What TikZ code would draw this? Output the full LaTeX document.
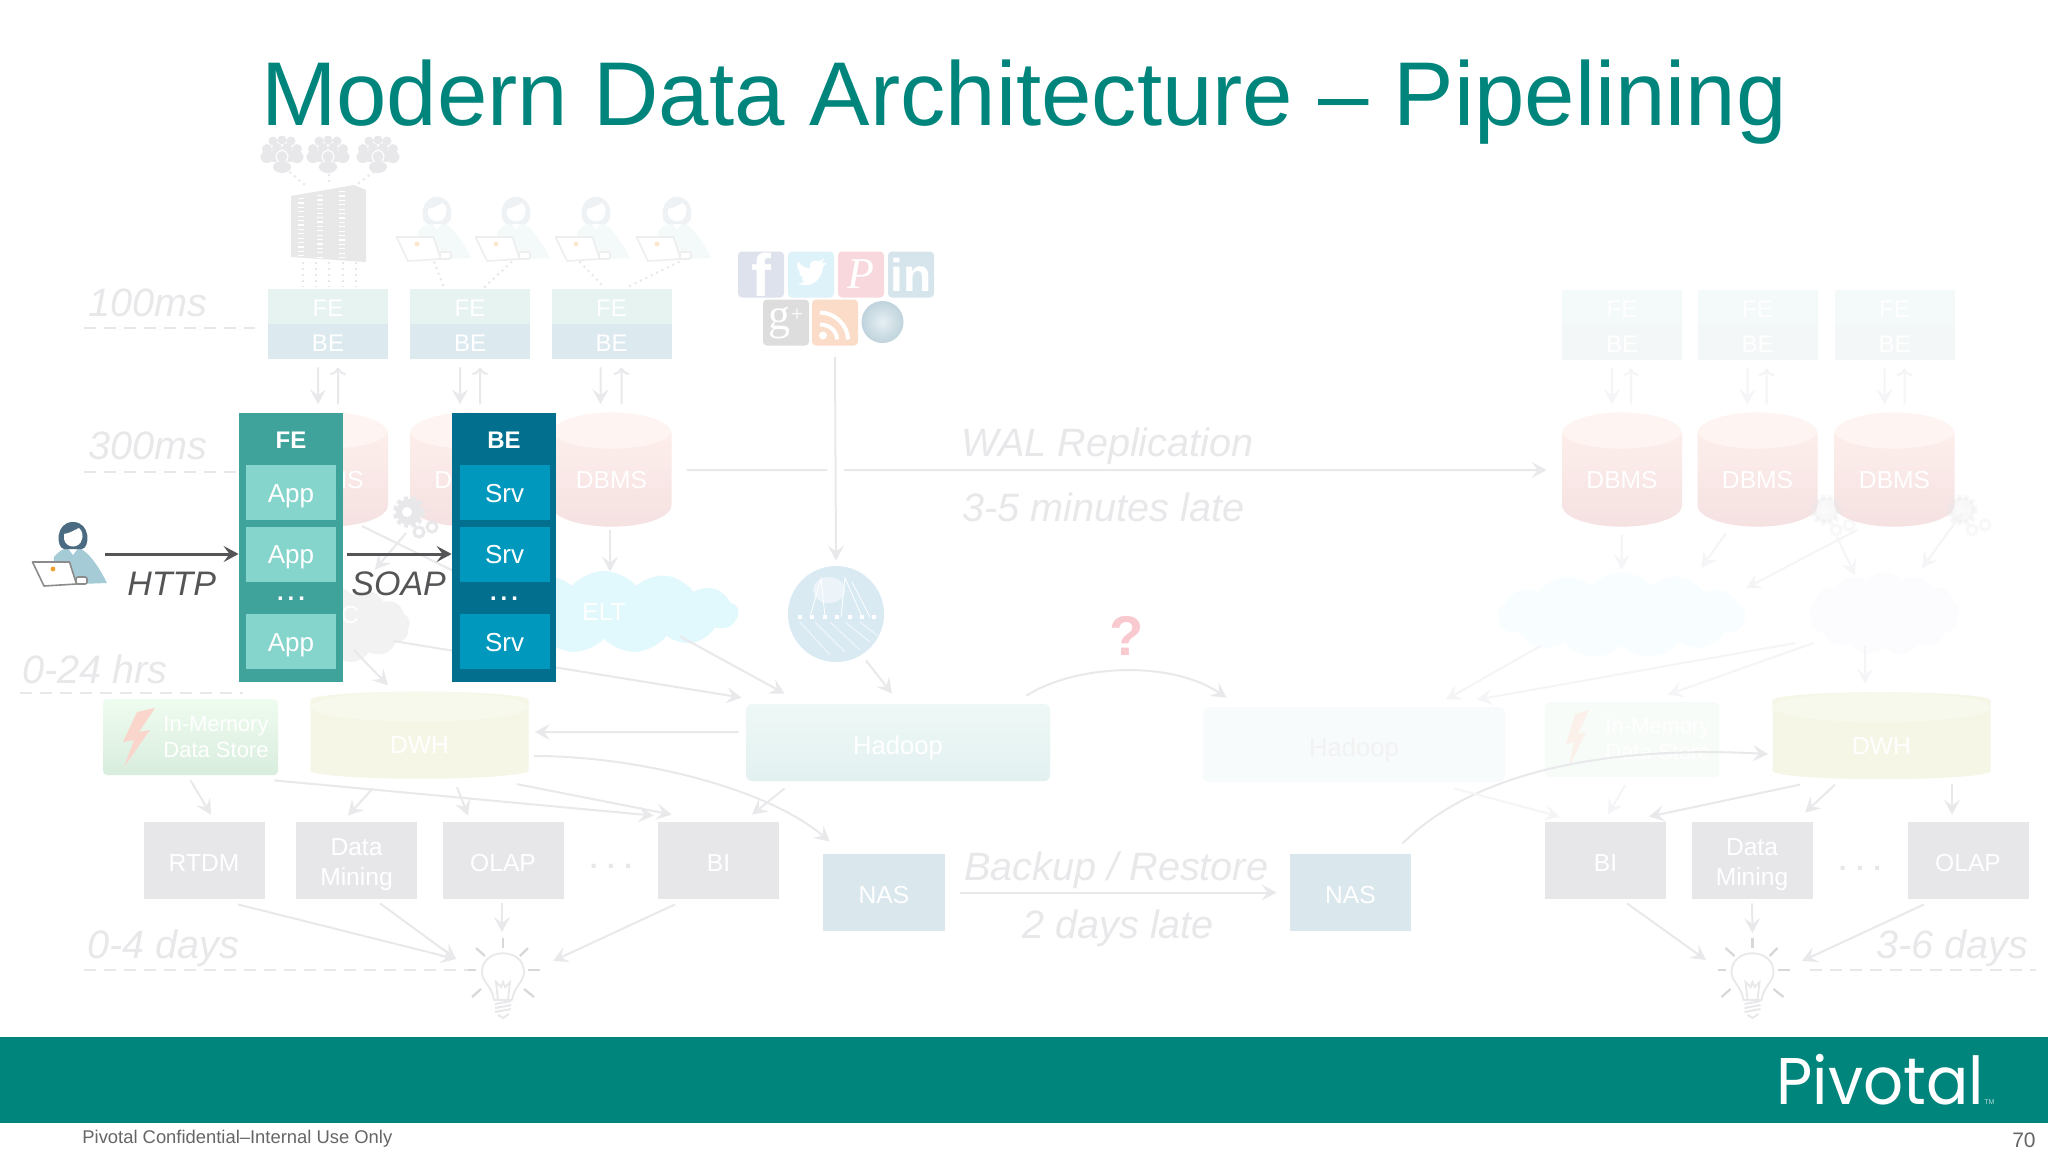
\documentclass[tikz,border=0pt]{standalone}
\usepackage{fontspec}
\setmainfont{Liberation Sans}
\newfontfamily\logofont{Poppins}
\newfontfamily\iconserif{Liberation Serif}
\usetikzlibrary{arrows.meta,shapes.geometric,shapes.symbols}

\definecolor{pivotalteal}{HTML}{00857C}
\definecolor{fecol}{HTML}{3FA39B}
\definecolor{febox}{HTML}{85D5CC}
\definecolor{becol}{HTML}{026F8E}
\definecolor{bebox}{HTML}{0098BD}
\definecolor{flowgray}{HTML}{555558}
\definecolor{fadetext}{HTML}{E8E8EB}
\definecolor{fadewire}{HTML}{E9E9EC}
\definecolor{faintwire}{HTML}{F5F5F7}
\definecolor{greybox}{HTML}{E7E7EA}
\definecolor{nasbox}{HTML}{DAE8ED}
\definecolor{dbtop}{HTML}{FEF1EE}
\definecolor{dbred}{HTML}{FCDCD7}
\definecolor{dbbot}{HTML}{F5E1E1}
\definecolor{dwhgreen}{HTML}{F5F6E5}
\definecolor{stackfe}{HTML}{E6F3F1}
\definecolor{stackbe}{HTML}{DCEAF0}
\definecolor{stackfeR}{HTML}{F4F9F9}
\definecolor{stackbeR}{HTML}{F4F7F8}
\definecolor{iconfb}{HTML}{DDE2EC}
\definecolor{icontw}{HTML}{DDF2F9}
\definecolor{iconpin}{HTML}{F8D8DC}
\definecolor{iconin}{HTML}{D6E4EC}
\definecolor{icongp}{HTML}{DDDDDD}
\definecolor{iconrss}{HTML}{FBDCC8}
\definecolor{globein}{HTML}{E6EFF3}
\definecolor{globeout}{HTML}{BFD3DC}
\definecolor{spiderblue}{HTML}{D9EAF3}
\definecolor{askred}{HTML}{F8C9CF}
\definecolor{cloudblue}{HTML}{E1F8FD}
\definecolor{cloudblueR}{HTML}{F8FEFF}
\definecolor{cloudpurple}{HTML}{FCFBFD}
\definecolor{memtop}{HTML}{EFFCF0}
\definecolor{membot}{HTML}{D8EDDD}
\definecolor{memR}{HTML}{F7FCF8}
\definecolor{boltred}{HTML}{F9D5CC}
\definecolor{boltredR}{HTML}{FBF0EA}
\definecolor{hadooptop}{HTML}{EEF8F6}
\definecolor{hadoopbot}{HTML}{E2F1F0}
\definecolor{hadoopR}{HTML}{F8FBFC}
\definecolor{bodyblue}{HTML}{A5CBD6}
\definecolor{hairblue}{HTML}{4A6B82}
\definecolor{lapgray}{HTML}{8C8C8C}
\definecolor{dotorange}{HTML}{F0A030}

\newcommand{\boxfont}{\fontsize{12.3}{14}\selectfont}
\newcommand{\latefont}{\fontsize{19.8}{22}\selectfont\itshape}

\tikzset{
	wire/.style={draw=fadewire,line width=1pt,-{Stealth[length=7.5pt,width=8pt,inset=3pt]}},
	faintwire/.style={wire,draw=faintwire},
	flow/.style={draw=flowgray,line width=1.5pt,-{Stealth[length=7.5pt,width=8pt,inset=3pt]}},
	dashline/.style={draw=fadetext,line width=1.1pt,dash pattern=on 6pt off 4pt},
	dotline/.style={draw=fadetext,line width=1pt,dash pattern=on 1pt off 2pt},
	late/.style={anchor=base west,inner sep=0pt,text=fadetext,font=\latefont},
	tag/.style={anchor=base west,inner sep=0pt,text=flowgray,font=\fontsize{17}{20}\selectfont\itshape},
	stack/.style={minimum width=60pt,minimum height=17.5pt,inner sep=0pt,text=white,text height=10pt,text depth=0pt,font=\fontsize{12}{14}\selectfont},
	block/.style={minimum width=60.5pt,minimum height=38.5pt,inner sep=0pt,text=white,align=center,font=\boxfont},
	lowtext/.style={text height=11pt,text depth=0pt},
	dbcyl/.style={cylinder,shape border rotate=90,aspect=0.6,minimum width=60pt,minimum height=57pt,inner sep=0pt,
		top color=dbtop,middle color=dbred,bottom color=dbbot,text=white,font=\boxfont,
		path picture={\fill[dbtop!80!white] ([yshift=-9pt]path picture bounding box.north) ellipse (30pt and 9pt);}},
	dwhcyl/.style={cylinder,shape border rotate=90,aspect=0.28,minimum width=109pt,minimum height=43.5pt,inner sep=0pt,
		fill=dwhgreen,text=white,text height=14pt,text depth=0pt,font=\boxfont,
		path picture={\fill[dwhgreen!70!white] ([yshift=-7.5pt]path picture bounding box.north) ellipse (54.5pt and 7.5pt);}},
	puff/.style={cloud,cloud puffs=13,cloud puff arc=100,aspect=2.4,inner sep=0pt,text=white,font=\boxfont},
	column/.style={minimum width=52pt,minimum height=134.5pt,inner sep=0pt},
	cell/.style={minimum width=45pt,minimum height=27.5pt,inner sep=0pt,text=white,text height=9.5pt,text depth=0pt,font=\fontsize{13}{15}\selectfont},
	head/.style={inner sep=0pt,text=white,font=\fontsize{12}{14}\selectfont\bfseries},
	social/.style={rounded corners=2pt,minimum width=23pt,minimum height=23pt,inner sep=0pt,text=white},
	person/.pic={
		\fill[bodyblue] (-19,22) .. controls (-14,16) and (-10,14) .. (-6,13) -- (6,13) .. controls (14,16) and (24,28) .. (34,48) -- (-20,50) -- cycle;
		\fill[white] (-5,13) -- (0,20) -- (5,13) -- cycle;
		\fill[hairblue] (0,-13) .. controls (-18,-13) and (-17,13) .. (-9,14) -- (9,14) .. controls (17,13) and (18,-13) .. (0,-13) -- cycle;
		\fill[white] (-9,-1) .. controls (-2,-2) and (3,-6) .. (6,-7) .. controls (10,-4) and (10,2) .. (9,4) .. controls (7,14) and (-7,14) .. (-9,4) -- cycle;
		\draw[draw=lapgray,fill=white,line width=0.8pt,line join=round] (-40.5,27) -- (-3.5,27) -- (3.5,49) -- (-29,51) -- cycle;
		\draw[draw=lapgray,fill=white,line width=0.8pt,rounded corners=1pt] (3,42) rectangle (14,49);
		\fill[dotorange] (-20,34) circle (2.4);
	},
	crowd/.pic={
		\fill[fadetext] (-9,-11) circle (4.5) (0,-12) circle (4.5) (9,-11) circle (4.5);
		\fill[fadetext] (-15,-3) circle (5) (-5,-4) circle (5) (5,-4) circle (5) (15,-3) circle (5);
		\fill[fadetext] (-15,5) ellipse (6.5 and 6) (15,5) ellipse (6.5 and 6) (-8,4) ellipse (6 and 6) (8,4) ellipse (6 and 6);
		\fill[white] (0,4.5) circle (6.5);
		\fill[fadetext] (0,4.5) circle (5.5);
		\fill[fadetext] (0,15) ellipse (9 and 6);
	},
	gearset/.pic={
		\draw[draw=fadetext,line width=3pt,dash pattern=on 2pt off 1.5pt] (0,0) circle (13);
		\fill[fadetext] (0,0) circle (13);
		\fill[white] (-2,0) circle (5);
		\draw[draw=fadetext,line width=1.5pt] (10,20) circle (5) (23,15) circle (5);
	},
	bulb/.pic={
		\draw[draw=fadetext,line width=0.9pt,fill=white,line join=round] (-9,30) .. controls (-11,16) and (-21,12) .. (-21,2) .. controls (-21,-23) and (21,-23) .. (21,2) .. controls (21,12) and (11,16) .. (9,30) -- cycle;
		\draw[draw=fadetext,line width=0.9pt] (-5,30) -- (-7,12) -- (-2,17) -- (0,12) -- (2,17) -- (7,12) -- (5,30);
		\draw[draw=fadetext,line width=1pt] (-8,34) -- (8,31) (-8,38) -- (8,35) (-8,42) -- (8,39) (-5,45) -- (0,48) -- (6,44);
		\draw[draw=fadetext!85!gray,line width=1.3pt] (0,-32) -- (0,-22) (-35,0) -- (-27,0) (25,0) -- (37,0);
		\draw[draw=fadetext!85!gray,line width=1.1pt] (-27,-22) -- (-18,-14) (25,-22) -- (17,-14) (-31,27) -- (-22,19) (31,27) -- (21,19);
	}
}

\begin{document}
\begin{tikzpicture}[x=0.5pt,y=-0.5pt]
	\useasboundingbox (0,0) rectangle (2048,1152);
	\fill[white] (0,0) rectangle (2048,1152);
	% title and bottom bar
	\node[anchor=base,inner sep=0pt,text=pivotalteal,font=\fontsize{45.3}{50}\selectfont] (title) at (1024,125) {Modern Data Architecture -- Pipelining};
	\fill[pivotalteal] (0,1037) rectangle (2048,1123);
	\node[anchor=base west,inner sep=0pt,text=white,xscale=0.95,font=\logofont\fontsize{33}{36}\selectfont] (logo) at (1776,1104) {Pivotal};
	\node[anchor=base west,inner sep=0pt,text=white!70!pivotalteal,font=\fontsize{3.5}{4}\selectfont] (tm) at (1984,1104) {TM};
	\node[anchor=base west,inner sep=0pt,text=black!60,font=\fontsize{9.2}{11}\selectfont] (footer) at (82,1143) {Pivotal Confidential--Internal Use Only};
	\node[anchor=base east,inner sep=0pt,text=black!60,font=\fontsize{10.5}{12}\selectfont] (page) at (2036,1147) {70};

	% timing labels
	\node[late] (tA) at (88,316) {100ms};
	\node[late] (tB) at (88,459) {300ms};
	\node[late] (tC) at (22,683) {0-24 hrs};
	\node[late] (tD) at (87,958) {0-4 days};
	\node[late] (tE) at (1876,958) {3-6 days};
	\draw[dashline] (84,328) -- (255,328);
	\draw[dashline] (84,472) -- (240,472);
	\draw[dashline] (20,693) -- (243,693);
	\draw[dashline] (84,970) -- (468,970);
	\draw[dashline] (1810,970) -- (2036,970);
	\node[late] (walA) at (961,456) {WAL Replication};
	\node[late] (walB) at (962,521) {3-5 minutes late};
	\node[late] (bakA) at (964,880) {Backup / Restore};
	\node[late] (bakB) at (1022,938) {2 days late};

	% web tier, left side
	\pic at (282,152) {crowd};
	\pic at (328,152) {crowd};
	\pic at (378,152) {crowd};
	\coordinate (crowdA) at (282,152);
	\coordinate (crowdB) at (329,152);
	\coordinate (crowdC) at (378,152);
	\coordinate (rack) at (329,224);
	\fill[black!9] (291,196) -- (354,185) -- (366,190) -- (366,262) -- (291,257) -- cycle;
	\draw[white,line width=3pt,dash pattern=on 0.6pt off 1.6pt] (301,198) -- (301,256);
	\draw[white,line width=3pt,dash pattern=on 0.6pt off 1.6pt] (320,195) -- (320,257);
	\draw[white,line width=3pt,dash pattern=on 0.6pt off 1.6pt] (342,191) -- (342,259);
	\draw[dotline] ([shift={(3,16)}]crowdA) -- ([shift={(-24,-39)}]rack);
	\draw[dotline] ([shift={(0,16)}]crowdB) -- ([shift={(0,-41)}]rack);
	\draw[dotline] ([shift={(1,16)}]crowdC) -- ([shift={(27,-39)}]rack);
	\begin{scope}
		\colorlet{bodyblue}{bodyblue!12!white}
		\colorlet{hairblue}{hairblue!9!white}
		\colorlet{lapgray}{lapgray!15!white}
		\colorlet{dotorange}{dotorange!25!white}
		\pic at (437,210) {person};
		\pic at (516,210) {person};
		\pic at (596,210) {person};
		\pic at (677,210) {person};
	\end{scope}
	\node[stack,fill=stackfe] (feA) at (328,306.5) {FE};
	\node[stack,fill=stackbe] (beA) at (328,341.5) {BE};
	\node[stack,fill=stackfe] (feB) at (470,306.5) {FE};
	\node[stack,fill=stackbe] (beB) at (470,341.5) {BE};
	\node[stack,fill=stackfe] (feC) at (611.5,306.5) {FE};
	\node[stack,fill=stackbe] (beC) at (611.5,341.5) {BE};
	\draw[dotline] (303,262) -- (303,287);
	\draw[dotline] (316,262) -- (316,287);
	\draw[dotline] (329,262) -- (329,287);
	\draw[dotline] (343,262) -- (343,287);
	\draw[dotline] (356,262) -- (356,287);
	\draw[dotline] ([shift={(-36,-27)}]feB.north) -- ([shift={(-26,-1)}]feB.north);
	\draw[dotline] ([shift={(42,-27)}]feB.north) -- ([shift={(14,-1)}]feB.north);
	\draw[dotline] ([shift={(-32,-27)}]feC.north) -- ([shift={(-7,-1)}]feC.north);
	\draw[dotline] ([shift={(68,-27)}]feC.north) -- ([shift={(15,-1)}]feC.north);

	% web tier, right side
	\node[stack,fill=stackfeR] (feD) at (1622,307.5) {FE};
	\node[stack,fill=stackbeR] (beD) at (1622,342.5) {BE};
	\node[stack,fill=stackfeR] (feE) at (1757.5,307.5) {FE};
	\node[stack,fill=stackbeR] (beE) at (1757.5,342.5) {BE};
	\node[stack,fill=stackfeR] (feF) at (1894.5,307.5) {FE};
	\node[stack,fill=stackbeR] (beF) at (1894.5,342.5) {BE};

	% databases
	\node[dbcyl] (dbA) at (328,480.5) {DBMS};
	\node[dbcyl] (dbB) at (470,480.5) {DBMS};
	\node[dbcyl] (dbC) at (611.5,480.5) {DBMS};
	\node[dbcyl] (dbD) at (1622,480.5) {DBMS};
	\node[dbcyl] (dbE) at (1757.5,480.5) {DBMS};
	\node[dbcyl] (dbF) at (1894.5,480.5) {DBMS};
	\draw[wire] ([shift={(-10,8)}]beA.south) -- ([shift={(-10,-8)}]dbA.north);
	\draw[wire,<-] ([shift={(10,8)}]beA.south) -- ([shift={(10,-8)}]dbA.north);
	\draw[wire] ([shift={(-10,8)}]beB.south) -- ([shift={(-10,-8)}]dbB.north);
	\draw[wire,<-] ([shift={(10,8)}]beB.south) -- ([shift={(10,-8)}]dbB.north);
	\draw[wire] ([shift={(-11,8)}]beC.south) -- ([shift={(-11,-8)}]dbC.north);
	\draw[wire,<-] ([shift={(10,8)}]beC.south) -- ([shift={(10,-8)}]dbC.north);
	\draw[faintwire] ([shift={(-10,8)}]beD.south) -- ([shift={(-10,-8)}]dbD.north);
	\draw[faintwire,<-] ([shift={(9,8)}]beD.south) -- ([shift={(9,-8)}]dbD.north);
	\draw[faintwire] ([shift={(-10,8)}]beE.south) -- ([shift={(-10,-8)}]dbE.north);
	\draw[faintwire,<-] ([shift={(9,8)}]beE.south) -- ([shift={(9,-8)}]dbE.north);
	\draw[faintwire] ([shift={(-10,8)}]beF.south) -- ([shift={(-10,-8)}]dbF.north);
	\draw[faintwire,<-] ([shift={(10,8)}]beF.south) -- ([shift={(10,-8)}]dbF.north);

	% social sources and crawler
	\node[social,fill=iconfb,font=\fontsize{30}{30}\selectfont\bfseries] (fb) at (761,274.5) {f};
	\node[social,fill=icontw] (tw) at (811,274.5) {};
	\fill[white,shift={(tw.center)}] (-13,9) .. controls (-3,14) and (11,8) .. (12,-8) -- (16,-12) -- (11,-11) -- (13,-16) -- (8,-13) .. controls (2,-16) and (-2,-12) .. (-1,-6) .. controls (-6,-6) and (-10,-9) .. (-13,-13) .. controls (-15,-8) and (-13,-4) .. (-11,-3) .. controls (-13,0) and (-10,2) .. (-8,3) .. controls (-10,6) and (-7,7) .. (-6,7) .. controls (-8,9) and (-11,9) .. (-13,9) -- cycle;
	\node[social,fill=iconpin,font=\iconserif\fontsize{22}{22}\selectfont\itshape] (pin) at (861,274.5) {P};
	\node[social,fill=iconin,font=\fontsize{23}{23}\selectfont\bfseries] (lin) at (911,274.5) {in};
	\node[social,fill=icongp,font=\iconserif\fontsize{22}{22}\selectfont] (gp) at (786,322.5) {g\raisebox{4pt}{\fontsize{11}{11}\selectfont+}};
	\node[social,fill=iconrss] (rss) at (835,322.5) {};
	\fill[white,shift={(rss.center)}] (-12,13) circle (4);
	\draw[white,line width=2pt,shift={(rss.center)}] (-15,2) .. controls (-6,2) and (2,8) .. (2,17);
	\draw[white,line width=2pt,shift={(rss.center)}] (-15,-10) .. controls (0,-10) and (13,3) .. (13,17);
	\node[circle,minimum size=21pt,inner sep=0pt,inner color=globein,outer color=globeout] (globe) at (882.5,322) {};
	\node[circle,minimum size=48pt,inner sep=0pt,fill=spiderblue] (spider) at (836,614) {};
	\fill[white,opacity=0.5] (829,590) ellipse (16 and 13);
	\draw[white,line width=0.4pt] (810,617) -- (821,578) -- (825,617) (841,617) -- (845,578) -- (862,617) (870,617) -- (852,582);
	\draw[white,line width=2pt,dash pattern=on 2pt off 4.2pt] (798,617) -- (880,617);
	\draw[white,opacity=0.7,line width=0.4pt] (800,622) -- (830,655) (815,622) -- (845,652) (830,622) -- (860,650) (845,622) -- (870,642) (860,622) -- (878,636);
	\coordinate (walX) at (836,470);
	\draw[wire] ([shift={(0,11)}]rss.south) -- ([shift={(0,-5)}]spider.north);
	\draw[fadewire,line width=1pt] ([shift={(15,-10.5)}]dbC.east) -- ([shift={(-9,0)}]walX);
	\draw[wire] ([shift={(8,0)}]walX) -- ([shift={(-15,-10.5)}]dbD.west);
	\node[inner sep=0pt,text=askred,font=\fontsize{28}{30}\selectfont\bfseries] (ask) at (1127,636) {?};

	% staging clouds
	\node[puff,fill=black!5,minimum width=75pt,minimum height=38pt] (etl) at (335,625) {};
	\node[inner sep=0pt,text=white,font=\boxfont] (etltxt) at (350,615) {C};
	\node[puff,fill=cloudblue,minimum width=134pt,minimum height=41pt] (elt) at (604,612) {ELT};
	\node[puff,fill=cloudblueR,minimum width=124pt,minimum height=43pt] (cloudB) at (1621.5,615) {};
	\node[puff,fill=cloudpurple,minimum width=75pt,minimum height=41pt] (cloudC) at (1884.5,613.5) {};
	\pic at (409,512) {gearset};
	\begin{scope}[opacity=0.3]
		\pic at (1826,510) {gearset};
		\pic at (1962,510) {gearset};
	\end{scope}
	\coordinate (gearA) at (409,512);
	\coordinate (gearB) at (1826,510);
	\coordinate (gearC) at (1962,510);

	% warehouse row, left
	\node[minimum width=87.5pt,minimum height=38pt,inner sep=0pt,rounded corners=2pt,top color=memtop,bottom color=membot] (mem) at (190.5,737) {};
	\fill[boltred] (155,708) -- (137,712) -- (123,742) -- (134,740) -- (124,767) -- (150,730) -- (139,732) -- cycle;
	\node[inner sep=0pt,text=white,align=left,font=\fontsize{11}{13}\selectfont] (memtxt) at (216,737) {In-Memory\\Data Store};
	\node[dwhcyl] (dwh) at (419.5,739.5) {DWH};
	\node[minimum width=152pt,minimum height=38.5pt,inner sep=0pt,rounded corners=3pt,text=white,text height=12pt,text depth=0pt,font=\fontsize{12.8}{16}\selectfont,top color=hadooptop,bottom color=hadoopbot] (hadoop) at (898,742.5) {Hadoop};
	\node[block,lowtext,fill=greybox] (rtdm) at (204,860.5) {RTDM};
	\node[block,fill=greybox] (mining) at (356.5,860.5) {\rule{0pt}{12.5pt}Data\\[1pt]Mining};
	\node[block,lowtext,fill=greybox] (olap) at (503,860.5) {OLAP};
	\node[block,lowtext,fill=greybox] (bi) at (718.5,860.5) {BI};
	\node[inner sep=0pt,text=greybox,font=\fontsize{14}{16}\selectfont\bfseries] (gapL) at (611,866) {.\hspace{4.7pt}.\hspace{4.7pt}.};
	\node[block,lowtext,minimum width=61pt,fill=nasbox] (nas) at (884,892.5) {NAS};
	\node[block,lowtext,fill=nasbox] (nasR) at (1350.5,892.5) {NAS};

	% warehouse row, right
	\node[minimum width=151pt,minimum height=37.5pt,inner sep=0pt,rounded corners=3pt,text=black!5,text height=12pt,text depth=0pt,font=\fontsize{12.8}{16}\selectfont,fill=hadoopR] (hadoopR) at (1354,744.5) {Hadoop};
	\node[minimum width=87pt,minimum height=37.5pt,inner sep=0pt,rounded corners=2pt,fill=memR] (memR) at (1632,739.5) {};
	\fill[boltredR] (1589,710) -- (1575,714) -- (1566,744) -- (1574,742) -- (1568,769) -- (1586,732) -- (1578,734) -- cycle;
	\node[inner sep=0pt,text=white,align=left,font=\fontsize{11}{13}\selectfont] (memtxtR) at (1658,739.5) {In-Memory\\Data Store};
	\node[dwhcyl] (dwhR) at (1881.5,740) {DWH};
	\node[block,lowtext,fill=greybox] (biR) at (1605.5,860.5) {BI};
	\node[block,fill=greybox] (miningR) at (1752,860.5) {\rule{0pt}{12.5pt}Data\\[1pt]Mining};
	\node[block,lowtext,fill=greybox] (olapR) at (1968,860.5) {OLAP};
	\node[inner sep=0pt,text=greybox,font=\fontsize{14}{16}\selectfont\bfseries] (gapR) at (1860,868) {.\hspace{4.7pt}.\hspace{4.7pt}.};
	\pic at (503,970) {bulb};
	\pic at (1752.5,970) {bulb};
	\coordinate (idea) at (503,970);
	\coordinate (ideaR) at (1752.5,970);

	% left side flows
	\draw[wire] ([shift={(0,5)}]mem.south) -- ([shift={(7,-7)}]rtdm.north);
	\draw[wire] ([shift={(-46.5,9)}]dwh.south) -- ([shift={(-8.5,-6)}]mining.north);
	\draw[wire] ([shift={(37.5,8)}]dwh.south) -- ([shift={(-35,-6)}]olap.north);
	\draw[wire] ([shift={(-4,5)}]mem.south east) -- ([shift={(-4,-6)}]bi.north west);
	\draw[wire] ([shift={(97.5,5)}]dwh.south) -- ([shift={(14,-7)}]bi.north west);
	\draw[wire] ([shift={(39,7)}]hadoop.south west) -- ([shift={(33.5,-7)}]bi.north);
	\draw[wire] ([shift={(5,16.5)}]dwh.east) .. controls +(107,0) and +(-60,-52) .. ([shift={(7,-12)}]nas.north west);
	\draw[wire] ([shift={(-7,-10.5)}]hadoop.west) -- ([shift={(6,-7.5)}]dwh.east);
	\draw[wire] ([shift={(34,5)}]rtdm.south) -- ([shift={(-47,-11)}]idea);
	\draw[wire] ([shift={(23.5,4)}]mining.south) -- ([shift={(-47,-11)}]idea);
	\draw[wire] ([shift={(-1,4)}]olap.south) -- ([shift={(-1,-38)}]idea);
	\draw[wire] ([shift={(-43.5,5)}]bi.south) -- ([shift={(50,-9)}]idea);
	\draw[wire] ([shift={(30,-2)}]spider.south) -- ([shift={(-6,-10)}]hadoop.north);
	\draw[wire] ([shift={(76,-3)}]elt.south) -- ([shift={(39,-10)}]hadoop.north west);
	\draw[wire] ([shift={(-17,16)}]etl.east) -- ([shift={(-4,-6)}]hadoop.north west);
	\draw[wire] ([shift={(19,-6)}]etl.south) -- ([shift={(-31.5,-6)}]dwh.north);
	\draw[wire] ([shift={(-1.5,3)}]dbC.south) -- ([shift={(6,1)}]elt.north);
	\draw[wire] ([shift={(-3,21)}]gearA) -- ([shift={(40,-17)}]etl.north);
	\draw[wire] ([shift={(34,-1)}]dbA.south) -- ([shift={(70,1)}]elt.west);
	\draw[wire] ([shift={(-24,-8)}]hadoop.north east) .. controls +(49,-31) and +(-57,-38) .. ([shift={(24,-9)}]hadoopR.north west);
	\draw[wire] ([shift={(15,0)}]nas.east) -- ([shift={(-13,0)}]nasR.west);

	% right side flows
	\draw[wire] ([shift={(-9,-10)}]nasR.north east) .. controls +(68,-69) and +(-168,-9) .. ([shift={(-4,14)}]dwhR.west);
	\draw[wire] ([shift={(-81.5,5)}]dwhR.south) -- ([shift={(43.5,-5)}]biR.north);
	\draw[wire] ([shift={(-46.5,5)}]dwhR.south) -- ([shift={(53,-9)}]miningR.north);
	\draw[wire] ([shift={(70.5,4)}]dwhR.south) -- ([shift={(-16,-7)}]olapR.north);
	\draw[wire] ([shift={(21.5,4)}]biR.south) -- ([shift={(-46.5,-10)}]ideaR);
	\draw[wire] ([shift={(0,4)}]miningR.south) -- ([shift={(0,-37)}]ideaR);
	\draw[wire] ([shift={(-44,5)}]olapR.south) -- ([shift={(49.5,-9)}]ideaR);
	\draw[faintwire] ([shift={(-51,6)}]hadoopR.south east) -- ([shift={(15,-5)}]biR.north west);
	\draw[faintwire] ([shift={(-7,8)}]memR.south) -- ([shift={(2.5,-7)}]biR.north);
	\draw[faintwire] ([shift={(0,8)}]dbD.south) -- ([shift={(0,-2)}]cloudB.north);
	\draw[faintwire] ([shift={(-31.5,6)}]dbE.south) -- ([shift={(80,-4)}]cloudB.north);
	\draw[faintwire] ([shift={(31,20)}]gearB) -- ([shift={(0,-27)}]cloudB.east);
	\draw[faintwire] ([shift={(11,27)}]gearB) -- ([shift={(-29.5,3)}]cloudC.north);
	\draw[faintwire] ([shift={(0,3)}]gearC) -- ([shift={(37.5,-4)}]cloudC.north);
	\draw[faintwire] ([shift={(-80.5,0)}]cloudB.south) -- ([shift={(92,-7)}]hadoopR.north);
	\draw[faintwire] ([shift={(-14,29.5)}]cloudC.west) -- ([shift={(123,-7)}]hadoopR.north);
	\draw[faintwire] ([shift={(4,29.5)}]cloudC.west) -- ([shift={(36,-7)}]memR.north);
	\draw[faintwire] ([shift={(-19.5,-2)}]cloudC.south) -- ([shift={(-16.5,-8)}]dwhR.north);

	% highlighted front end and back end
	\node[column,fill=fecol] (frontcol) at (291,547.5) {};
	\node[head] (frontname) at (291,440) {FE};
	\node[cell,fill=febox] (appA) at (291,492.5) {App};
	\node[cell,fill=febox] (appB) at (291,554) {App};
	\node[head] (frontdots) at (291,599) {.\hspace{2pt}.\hspace{2pt}.};
	\node[cell,fill=febox] (appC) at (291,641.5) {App};
	\node[column,fill=becol] (backcol) at (504,547.5) {};
	\node[head] (backname) at (504,440) {BE};
	\node[cell,fill=bebox] (srvA) at (504.5,492.5) {Srv};
	\node[cell,fill=bebox] (srvB) at (504.5,554) {Srv};
	\node[head] (backdots) at (504,599) {.\hspace{2pt}.\hspace{2pt}.};
	\node[cell,fill=bebox] (srvC) at (504.5,641.5) {Srv};
	\pic at (73,535) {person};
	\coordinate (user) at (105,554);
	\draw[flow] (user) -- (frontcol.west |- appB);
	\draw[flow] ([shift={(4,0)}]frontcol.east |- appB) -- (backcol.west |- srvB);
	\node[tag] (http) at (127,595) {HTTP};
	\node[tag] (soap) at (351,595) {SOAP};
\end{tikzpicture}
\end{document}
